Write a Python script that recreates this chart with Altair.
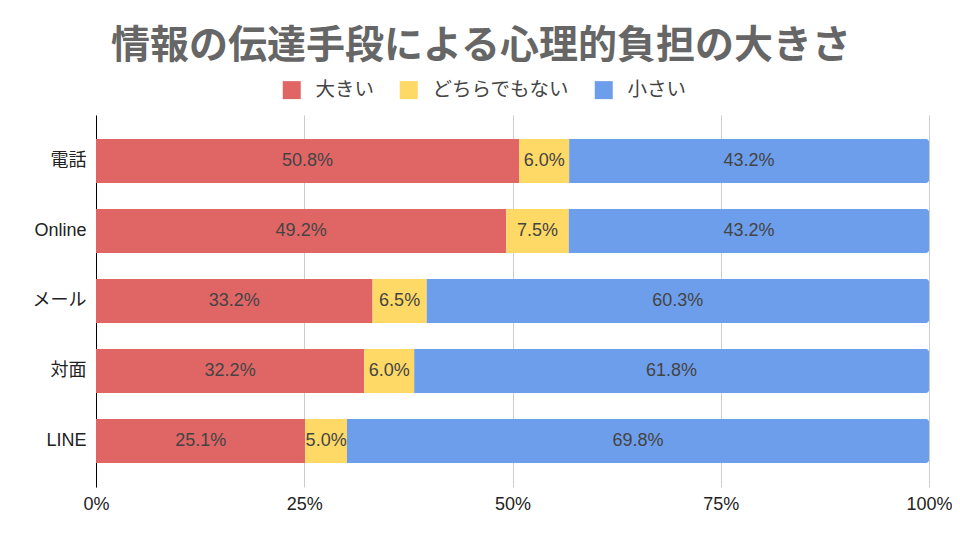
import altair as alt
import pandas as pd

categories = ["電話", "Online", "メール", "対面", "LINE"]
series = ["大きい", "どちらでもない", "小さい"]
colors = ["#E06666", "#FFD966", "#6D9EEB"]
big = [50.8, 49.2, 33.2, 32.2, 25.1]
neutral = [6.0, 7.5, 6.5, 6.0, 5.0]
small = [43.2, 43.2, 60.3, 61.8, 69.8]
x_ticks = [0, 0.25, 0.5, 0.75, 1.0]

rows = []
for i, c in enumerate(categories):
    for k, (s, vals) in enumerate(zip(series, [big, neutral, small])):
        rows.append({"category": c, "series": s, "order": k, "value": vals[i],
                     "label": f"{vals[i]:.1f}%"})
df = pd.DataFrame(rows)

LATIN = "Liberation Sans, Noto Sans CJK JP, sans-serif"
CJK = "Noto Sans CJK JP, sans-serif"

base = alt.Chart(df).transform_stack(
    stack="value", groupby=["category"], as_=["x0", "x1"], offset="normalize",
    sort=[alt.SortField("order", order="ascending")]
).transform_calculate(mid="(datum.x0 + datum.x1) / 2")

y_enc = alt.Y("category:N", sort=categories, title=None,
              scale=alt.Scale(paddingInner=0.37, paddingOuter=0.342),
              axis=alt.Axis(labelFontSize=18, labelFont=LATIN, labelColor="#222222",
                            ticks=False, labelPadding=10, domainColor="#000000",
                            domainWidth=1, grid=False))
x_enc = alt.X("x0:Q", title=None,
              scale=alt.Scale(domain=[0, 1], nice=False),
              axis=alt.Axis(values=x_ticks, format=".0%", labelFontSize=18, labelFont=LATIN,
                            labelColor="#222222", ticks=False, domain=False, labelPadding=8,
                            labelFlush=False,
                            grid=True, gridColor="#cccccc", gridWidth=1))
color_enc = alt.Color("series:N", scale=alt.Scale(domain=series, range=colors), title=None,
                      legend=alt.Legend(orient="none", legendX=186, legendY=-35,
                                        direction="horizontal", symbolType="square",
                                        symbolSize=324, symbolStrokeWidth=0,
                                        labelFontSize=19.5, labelFont=CJK, labelColor="#444444",
                                        labelOffset=14, columnPadding=24))

bars_plain = base.transform_filter("datum.order < 2").mark_bar().encode(
    y=y_enc, x=x_enc, x2="x1:Q", color=color_enc)
bars_end = base.transform_filter("datum.order == 2").mark_bar(
    cornerRadiusTopRight=3, cornerRadiusBottomRight=3).encode(
    y=y_enc, x=x_enc, x2="x1:Q", color=color_enc)
texts = base.mark_text(fontSize=18, font=LATIN, color="#444444").encode(
    y=alt.Y("category:N", sort=categories), x=alt.X("mid:Q"), text="label:N")

chart = alt.layer(bars_plain, bars_end, texts).properties(
    width=833, height=372,
    title=alt.TitleParams("情報の伝達手段による心理的負担の大きさ", font=CJK, fontSize=39,
                          fontWeight="bold", color="#666666", anchor="middle",
                          frame="bounds", offset=14, dx=-11),
    autosize=alt.AutoSizeParams(type="none"),
    padding={"left": 88, "top": 107, "right": 23, "bottom": 45},
).configure_view(stroke=None)

chart.save("out.html", embed_options={"renderer": "svg", "actions": False})
